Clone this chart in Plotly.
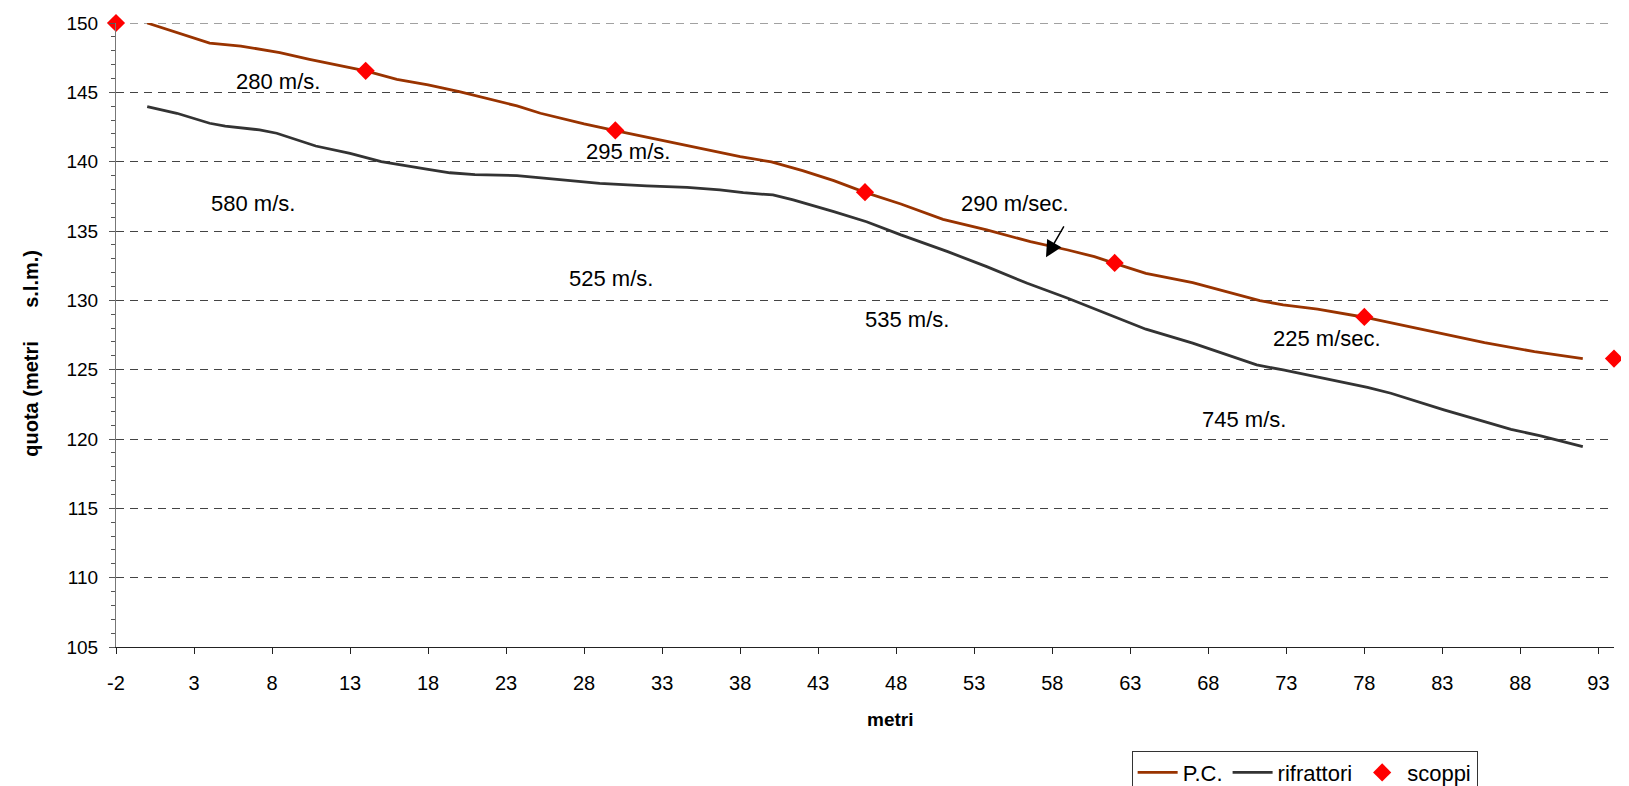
import plotly.graph_objects as go

# ---- data ----
pc_x = [0, 4, 6, 8.5, 10.4, 12.5, 14, 16, 18, 20, 21.5, 23.7, 25.2, 28, 30, 32.7, 35.5, 38, 40,
        42, 44, 46, 48.3, 51, 53.8, 56.6, 59, 60.7, 62, 64, 67, 69.2, 71.3, 72.8, 75, 78, 81.4,
        85.7, 88.9, 92]
pc_y = [150.0, 148.55, 148.34, 147.86, 147.38, 146.9, 146.54, 145.94, 145.53, 145.05, 144.64,
        144.02, 143.49, 142.72, 142.24, 141.6, 140.97, 140.36, 139.98, 139.35, 138.63, 137.79,
        136.95, 135.84, 135.08, 134.23, 133.63, 133.15, 132.67, 131.95, 131.28, 130.63, 129.98,
        129.67, 129.36, 128.78, 127.99, 126.95, 126.3, 125.8]

rif_x = [0, 1.9, 4, 5, 7.2, 8.3, 10.8, 13, 15, 17, 18, 19.4, 21, 23.7, 26.5, 29, 32, 34.6, 36.7,
         38.2, 40.1, 41.4, 44, 46.1, 48.3, 51.3, 53.8, 56.4, 59, 61.7, 64, 67, 69.2, 71.1, 72.8,
         76, 78.2, 79.7, 83.1, 85.7, 87.4, 89.3, 92]
rif_y = [143.97, 143.49, 142.77, 142.57, 142.29, 142.05, 141.13, 140.6, 140.0, 139.6, 139.45,
         139.2, 139.06, 139.0, 138.68, 138.44, 138.25, 138.15, 137.96, 137.76, 137.6, 137.24,
         136.4, 135.67, 134.72, 133.51, 132.43, 131.23, 130.15, 128.95, 127.92, 126.91, 126.06,
         125.34, 124.98, 124.21, 123.73, 123.3, 122.1, 121.25, 120.7, 120.22, 119.45]

scoppi_x = [-2, 14, 30, 46, 62, 78, 94]
scoppi_y = [150.0, 146.55, 142.25, 137.8, 132.7, 128.8, 125.8]

label_text = ["280 m/s.", "295 m/s.", "580 m/s.", "525 m/s.", "290 m/sec.", "535 m/s.",
              "225 m/sec.", "745 m/s."]
label_x = [8.4, 30.8, 6.8, 29.7, 55.6, 48.7, 75.6, 70.3]
label_y = [145.75, 140.72, 137.0, 131.58, 137.0, 128.6, 127.27, 121.39]

arrow_tail = (58.8, 135.44)
arrow_head = (57.6, 133.1)

x_ticks = list(range(-2, 94, 5))
y_ticks = list(range(105, 151, 5))

FONT = "Liberation Sans, Arial, sans-serif"
NB = "\u00a0"
GRID_COLOR = "#444444"
GRID_DASH = "8px,6px"

fig = go.Figure()
fig.add_trace(go.Scatter(x=pc_x, y=pc_y, mode="lines", name="P.C.",
                         line=dict(color="#993300", width=2.8)))
fig.add_trace(go.Scatter(x=rif_x, y=rif_y, mode="lines", name="rifrattori",
                         line=dict(color="#333333", width=2.8)))
fig.add_trace(go.Scatter(x=scoppi_x, y=scoppi_y, mode="markers", name="scoppi",
                         marker=dict(symbol="diamond", color="#FF0000", size=14,
                                     line=dict(width=0)),
                         cliponaxis=False))

for t, x, y in zip(label_text, label_x, label_y):
    fig.add_annotation(x=x, y=y, text=t, showarrow=False, xanchor="center", yanchor="middle",
                       font=dict(family=FONT, size=22, color="black"))

fig.add_annotation(x=arrow_head[0], y=arrow_head[1], ax=arrow_tail[0], ay=arrow_tail[1],
                   axref="x", ayref="y", text="", showarrow=True,
                   arrowhead=2, arrowsize=2.2, arrowwidth=1.5, arrowcolor="black")

# top gridline (plotly drops the grid line lying on the range end)
fig.add_shape(type="line", xref="paper", x0=0, x1=1, yref="y", y0=y_ticks[-1], y1=y_ticks[-1],
              line=dict(color=GRID_COLOR, width=1, dash=GRID_DASH), layer="below")

# axis titles (placed as in the reference)
fig.add_annotation(xref="paper", yref="paper", x=0.517, y=-0.1154, text="<b>metri</b>",
                   xanchor="center", yanchor="middle",
                   showarrow=False, font=dict(family=FONT, size=19, color="black"))
fig.add_annotation(xref="paper", yref="paper", x=0, xshift=-85, y=0.47, textangle=-90,
                   xanchor="center", yanchor="middle",
                   text="<b>quota (metri" + NB * 6 + "s.l.m.)</b>", showarrow=False,
                   font=dict(family=FONT, size=20, color="black"))

# the page body adds an 8px offset, so the figure is 8px smaller and the margins compensate
fig.update_layout(
    width=1621, height=778,
    margin=dict(l=108, r=15, t=15, b=139, autoexpand=False),
    paper_bgcolor="white", plot_bgcolor="white",
    font=dict(family=FONT, size=18, color="black"),
    showlegend=True,
    legend=dict(orientation="h", x=0.678, y=-0.166, xanchor="left", yanchor="top",
                bordercolor="#333333", borderwidth=1,
                font=dict(family=FONT, size=22, color="black"),
                itemwidth=40, tracegroupgap=0),
)

fig.update_xaxes(
    range=[-2, 94], tickmode="array", tickvals=x_ticks, ticktext=[str(v) for v in x_ticks],
    showgrid=False, zeroline=False, automargin=False,
    showline=True, linecolor="#222222", linewidth=1.2,
    ticks="outside", ticklen=6, tickcolor="#222222", tickwidth=1.2,
    ticklabelstandoff=12,
    tickfont=dict(family=FONT, size=20, color="black"),
)
fig.update_yaxes(
    range=[105, 150], tickmode="array", tickvals=y_ticks, ticktext=[str(v) for v in y_ticks],
    showgrid=True, gridcolor=GRID_COLOR, gridwidth=1, griddash=GRID_DASH,
    zeroline=False, automargin=False,
    showline=True, linecolor="#777777", linewidth=1.2,
    ticks="outside", ticklen=6, tickcolor="#555555", tickwidth=1.2,
    minor=dict(dtick=1, tick0=105, ticks="outside", ticklen=4, tickcolor="#555555",
               tickwidth=1, showgrid=False),
    ticklabelstandoff=7,
    tickfont=dict(family=FONT, size=19, color="black"),
)

fig.write_html("out.html")
